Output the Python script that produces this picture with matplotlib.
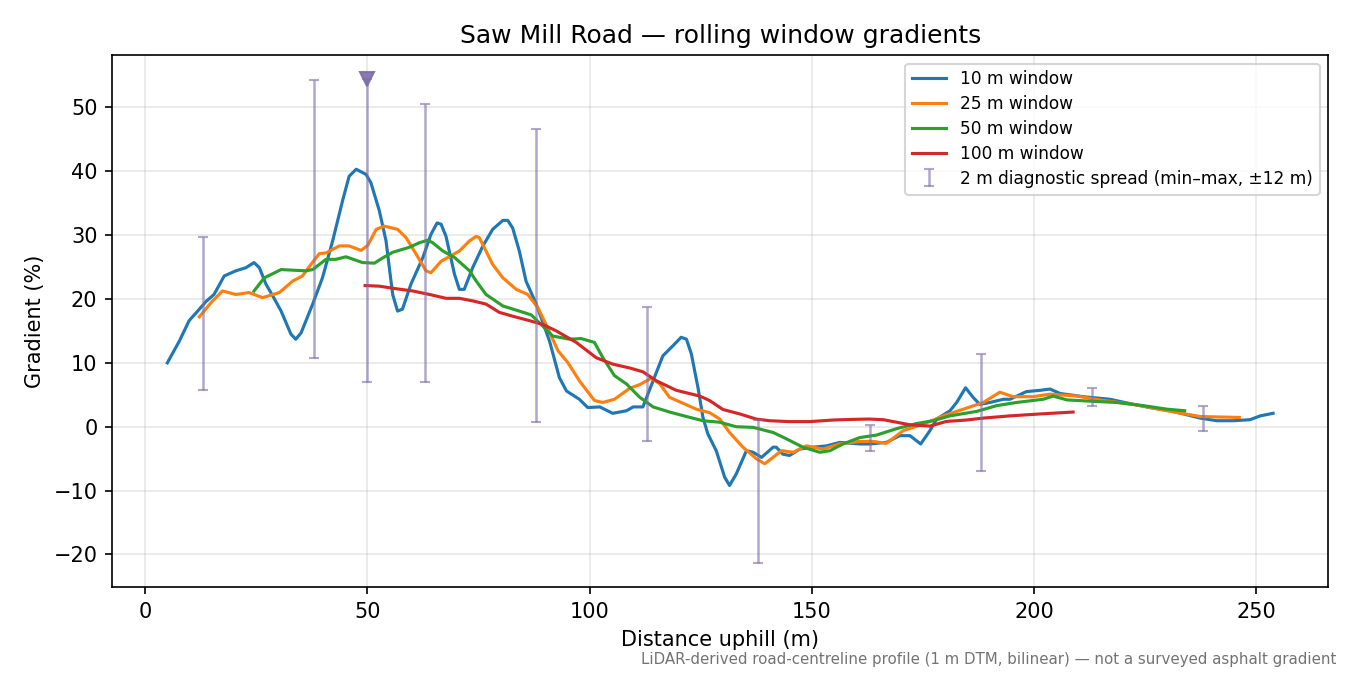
import matplotlib
matplotlib.use("Agg")
import matplotlib.pyplot as plt

# 10 m window
x10 = [5, 7.7, 9.9, 12.2, 13.7, 15.5, 17.8, 20.4, 22.7, 24.5, 25.7, 27.2, 28.7, 30.6, 32.8, 33.9, 35.1,
       37.7, 39.9, 42.2, 44.4, 45.9, 47.5, 49.7, 50.8, 52.7, 54.2, 55.7, 56.8, 57.9, 59.8, 62.5, 64.3,
       65.7, 66.6, 67.7, 69.6, 70.7, 71.8, 73.7, 76.0, 78.2, 80.5, 81.6, 82.7, 84.2, 85.7, 88.0, 91.0,
       93.2, 94.8, 97.7, 99.6, 102.3, 105.2, 108.3, 109.8, 112.0, 114.3, 116.5, 118.8, 120.6, 121.8,
       122.9, 124.4, 125.5, 126.6, 128.5, 130.4, 131.5, 133.0, 135.3, 136.8, 138.7, 141.3, 142.0, 143.5,
       145.0, 147.3, 150.3, 153.3, 156.3, 160.8, 163.1, 166.8, 169.8, 172.1, 174.5, 176.6, 178.1, 181.1,
       182.6, 184.6, 186.3, 187.8, 190.1, 193.1, 194.6, 198.3, 201.4, 203.6, 205.9, 211.1, 217.1, 222.4,
       226.1, 230.6, 233.6, 237.4, 241.1, 244.9, 248.6, 250.9, 253.8]
g10 = [10.0, 13.4, 16.6, 18.4, 19.6, 20.7, 23.6, 24.4, 24.9, 25.7, 24.9, 22.3, 20.5, 18.1, 14.5, 13.7, 14.7,
       19.2, 23.3, 29.1, 35.3, 39.2, 40.3, 39.5, 38.2, 33.8, 29.1, 20.7, 18.1, 18.4, 22.3, 26.5, 30.1,
       31.9, 31.7, 29.8, 23.9, 21.5, 21.5, 24.9, 28.3, 30.9, 32.3, 32.3, 31.1, 27.5, 22.8, 19.2, 13.4,
       7.7, 5.6, 4.3, 3.0, 3.1, 2.1, 2.5, 3.1, 3.1, 7.2, 11.1, 12.7, 14.0, 13.7,
       11.4, 6.1, 1.5, -1.1, -3.75, -7.9, -9.2, -7.4, -3.75, -4.0, -4.8, -3.2, -3.2, -4.3,
       -4.5, -3.5, -3.2, -3.0, -2.45, -2.7, -2.7, -2.45, -1.4, -1.4, -2.7, -0.6, 1.2, 2.5,
       3.8, 6.1, 4.6, 3.5, 3.8, 4.3, 4.3, 5.5, 5.7, 5.9, 5.2, 4.7, 4.3, 3.5,
       3.0, 2.5, 2.0, 1.35, 0.94, 0.94, 1.1, 1.7, 2.1]

# 25 m window
x25 = [12.2, 14.8, 17.4, 20.4, 23.4, 26.4, 30.2, 33.2, 35.4, 37.3, 39.2, 40.7, 43.7, 45.9, 48.6, 50.1,
       52.0, 53.8, 56.8, 58.7, 61.0, 63.2, 64.3, 66.6, 70.7, 73.0, 74.5, 75.2, 78.2, 80.5, 83.5, 86.1,
       88.4, 90.2, 92.9, 95.1, 97.7, 101.1, 103.0, 105.6, 109.0, 111.3, 113.9, 115.8, 118.0, 120.6,
       124.0, 127.0, 129.3, 131.5, 134.5, 137.5, 139.4, 140.9, 143.2, 145.8, 148.8, 152.5, 156.3,
       160.8, 163.8, 166.8, 170.6, 175.1, 179.6, 184.1, 188.6, 192.3, 195.3, 199.8, 203.6, 209.6,
       215.6, 222.4, 229.9, 237.4, 246.2]
g25 = [17.2, 19.4, 21.25, 20.7, 21.0, 20.2, 21.0, 22.8, 23.6, 25.4, 27.1, 27.2, 28.3, 28.3, 27.6, 28.4,
       30.9, 31.4, 30.9, 29.6, 27.0, 24.4, 24.1, 25.9, 27.5, 29.1, 29.8, 29.6, 25.4, 23.3, 21.5, 20.7,
       18.6, 16.0, 11.9, 10.05, 7.2, 4.1, 3.8, 4.3, 6.0, 6.6, 7.6, 6.7, 4.6, 3.8,
       2.75, 2.2, 1.2, -0.9, -3.2, -5.0, -5.8, -5.0, -3.75, -4.0, -3.0, -3.5, -2.7,
       -2.3, -2.3, -2.6, -0.6, 0.4, 1.7, 2.75, 3.8, 5.4, 4.7, 4.7, 5.1, 4.8,
       4.1, 3.5, 2.5, 1.6, 1.45]

# 50 m window
x50 = [24.5, 26.8, 30.6, 36.2, 37.7, 40.7, 42.9, 45.2, 48.9, 51.6, 53.4, 55.7, 59.5, 61.7, 63.6, 64.7,
       67.0, 69.6, 73.0, 74.5, 76.7, 80.5, 84.2, 86.9, 89.1, 91.7, 95.5, 98.1, 101.1, 103.0, 105.6,
       108.3, 111.3, 114.3, 118.0, 121.8, 125.5, 129.3, 133.0, 136.8, 141.3, 144.3, 148.0, 151.8,
       154.1, 157.0, 160.8, 164.6, 169.1, 173.6, 177.3, 181.1, 187.1, 191.6, 196.1, 202.1, 204.3,
       207.4, 212.6, 218.6, 224.6, 229.9, 233.9]
g50 = [21.25, 23.3, 24.6, 24.4, 24.6, 26.2, 26.2, 26.6, 25.7, 25.6, 26.4, 27.3, 28.1, 28.8, 29.2, 28.8,
       27.5, 26.5, 24.4, 22.8, 20.7, 18.9, 18.1, 17.5, 16.0, 14.2, 13.7, 13.8, 13.2, 10.8, 8.0,
       6.7, 4.6, 3.1, 2.3, 1.6, 0.94, 0.7, 0.0, -0.1, -0.9, -1.9, -3.2, -4.0,
       -3.75, -2.7, -1.7, -1.3, -0.3, 0.5, 0.94, 1.7, 2.4, 3.3, 3.8, 4.3, 4.8,
       4.2, 4.0, 3.8, 3.3, 2.75, 2.5]

# 100 m window
x100 = [49.5, 52.7, 56.5, 60.2, 64.0, 67.7, 70.7, 73.7, 76.7, 79.7, 82.7, 86.5, 89.5, 92.5, 97.0,
        101.5, 105.2, 109.0, 112.0, 115.0, 119.5, 124.8, 127.0, 130.0, 133.8, 137.5, 140.5, 145.0,
        149.5, 154.8, 159.3, 163.0, 166.1, 169.1, 172.1, 176.6, 180.3, 184.8, 188.6, 194.6, 201.4, 208.8]
g100 = [22.1, 22.0, 21.6, 21.25, 20.7, 20.1, 20.1, 19.7, 19.2, 17.9, 17.3, 16.6, 16.0, 15.0, 13.2,
        10.8, 9.8, 9.2, 8.6, 7.2, 5.7, 4.8, 4.1, 2.7, 2.0, 1.2, 0.94, 0.8,
        0.8, 1.05, 1.15, 1.2, 1.1, 0.7, 0.3, 0.1, 0.83, 1.05, 1.35, 1.7, 2.0, 2.3]

# 2 m diagnostic spread (min / max)
spread_x = [13, 38, 50, 63, 88, 113, 138, 163, 188, 213, 238]
spread_min = [5.8, 10.8, 7.0, 7.0, 0.8, -2.2, -21.3, -3.75, -7.0, 3.3, -0.6]
spread_max = [29.7, 54.2, 54.4, 50.5, 46.6, 18.75, 1.1, 0.3, 11.4, 6.1, 3.3]
clipped_x = [50]
clipped_y = [54.4]

fig = plt.figure(figsize=(9, 4.5), dpi=150)
ax = fig.add_subplot()
fig.subplots_adjust(left=0.083, right=0.984, top=0.9185, bottom=0.1304)

ax.plot(x10, g10, lw=1.5, color="tab:blue", label="10 m window")
ax.plot(x25, g25, lw=1.5, color="tab:orange", label="25 m window")
ax.plot(x50, g50, lw=1.5, color="tab:green", label="50 m window")
ax.plot(x100, g100, lw=1.5, color="tab:red", label="100 m window")

mid = [(a + b) / 2 for a, b in zip(spread_min, spread_max)]
lo = [m - a for m, a in zip(mid, spread_min)]
hi = [b - m for m, b in zip(mid, spread_max)]
ax.errorbar(spread_x, mid, yerr=[lo, hi], fmt="none", ecolor="#7d6da8", alpha=0.6,
            elinewidth=1.2, capsize=2.5, label="2 m diagnostic spread (min\u2013max, \u00b112 m)")
ax.plot(clipped_x, clipped_y, "v", ms=7, color="#7d6da8", alpha=0.9)

ax.grid(True, alpha=0.3)
ax.set_xlabel("Distance uphill (m)")
ax.set_ylabel("Gradient (%)")
ax.set_title("Saw Mill Road \u2014 rolling window gradients", fontsize=12)
ax.legend(loc="upper right", fontsize=8.2, labelspacing=0.4)
fig.text(0.99, 0.012, "LiDAR-derived road-centreline profile (1 m DTM, bilinear) \u2014 not a surveyed asphalt gradient",
         ha="right", va="bottom", fontsize=7.2, color="0.45")

fig.savefig("out.png", dpi=150)
